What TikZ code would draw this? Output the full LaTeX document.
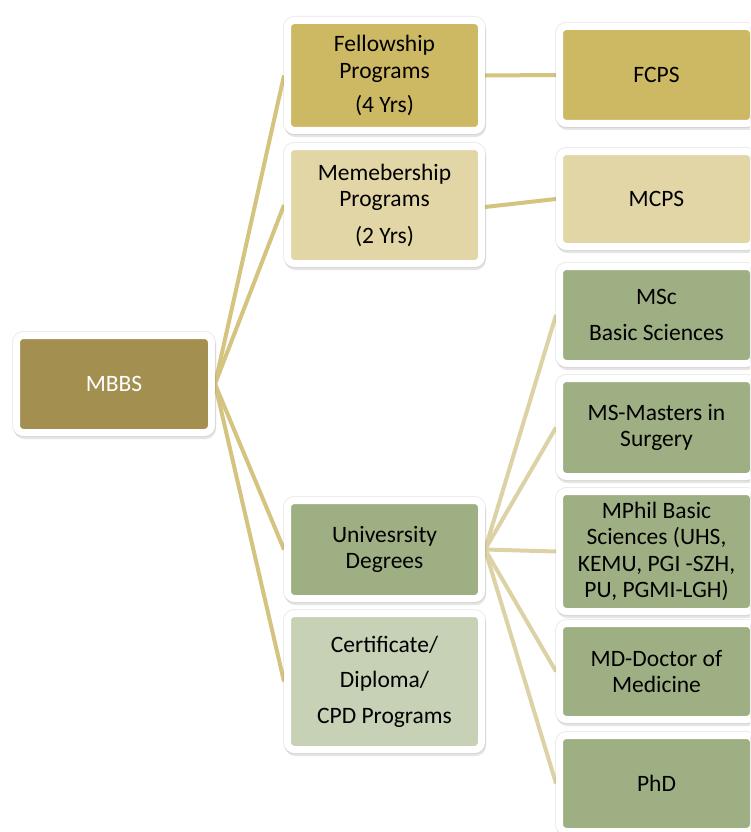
\documentclass[tikz,border=0pt]{standalone}
\usepackage{fontspec}
\setmainfont{Carlito}
\usetikzlibrary{shadows,backgrounds}
\definecolor{cMBBS}{HTML}{A38F4F}
\definecolor{cFel}{HTML}{CDB863}
\definecolor{cMem}{HTML}{E2D6A6}
\definecolor{cUni}{HTML}{9EB083}
\definecolor{cCert}{HTML}{C6D1B6}
\definecolor{cLine}{HTML}{D5C47F}
\definecolor{cLineB}{HTML}{DCD2A5}
\tikzset{
  box/.style={draw=white, line width=7pt, rounded corners=7pt, align=center,
    minimum width=194pt, inner sep=0pt,
    font=\fontsize{23.5}{26.5}\selectfont,
    drop shadow={shadow xshift=0pt, shadow yshift=0pt, opacity=0.10, fill=black!70, draw=black!70, line width=9pt},
    drop shadow={shadow xshift=1pt, shadow yshift=-3pt, opacity=0.14, fill=black!70, draw=black!70}},
  link/.style={cLine, line width=4pt},
  linkb/.style={cLineB, line width=4pt}
}
\begin{document}
\begin{tikzpicture}[x=1pt,y=-1pt]
\useasboundingbox (0,0) rectangle (750,832);
\begin{scope}
\clip (0,0) rectangle (750,832);
\node[box, fill=cMBBS, text=white, minimum width=195pt, minimum height=97pt] (mbbs) at (114,384) {MBBS};
\node[box, fill=cFel, minimum height=110pt] (fel) at (384.5,75.5) {Fellowship\\Programs\\[8pt](4 Yrs)};
\node[box, fill=cMem, minimum height=117pt] (mem) at (384.5,205) {Memebership\\Programs\\[10pt](2 Yrs)};
\node[box, fill=cUni, minimum height=98pt] (uni) at (384.5,549.5) {Univesrsity\\Degrees};
\node[box, fill=cCert, minimum height=136pt] (cert) at (384.5,681.5) {Certificate/\\[9pt]Diploma/\\[9pt]CPD Programs};
\node[box, fill=cFel, minimum height=97pt] (fcps) at (656.5,75) {FCPS};
\node[box, fill=cMem, minimum height=95pt] (mcps) at (656.5,199) {MCPS};
\node[box, fill=cUni, minimum height=97pt] (msc) at (656.5,315) {MSc\\[9pt]Basic Sciences};
\node[box, fill=cUni, minimum height=98pt] (ms) at (656.5,427.5) {MS-Masters in\\Surgery};
\node[box, fill=cUni, minimum height=120pt] (mphil) at (656.5,551.5) {MPhil Basic\\Sciences (UHS,\\KEMU, PGI -SZH,\\PU, PGMI-LGH)};
\node[box, fill=cUni, minimum height=96pt] (md) at (656.5,671.5) {MD-Doctor of\\Medicine};
\node[box, fill=cUni, minimum height=96pt] (phd) at (656.5,783.5) {PhD};
\begin{scope}[on background layer]
\fill[white] (0,0) rectangle (750,832);
\draw[link] (mbbs.east) -- (fel.west);
\draw[link] (mbbs.east) -- (mem.west);
\draw[link] (mbbs.east) -- (uni.west);
\draw[link] (mbbs.east) -- (cert.west);
\draw[link] (fel.east) -- (fcps.west);
\draw[link] ([yshift=-2pt]mem.east) -- (mcps.west);
\draw[linkb] (uni.east) -- (msc.west);
\draw[linkb] (uni.east) -- (ms.west);
\draw[linkb] (uni.east) -- (mphil.west);
\draw[linkb] (uni.east) -- (md.west);
\draw[linkb] (uni.east) -- (phd.west);
\end{scope}
\end{scope}
\end{tikzpicture}
\end{document}
